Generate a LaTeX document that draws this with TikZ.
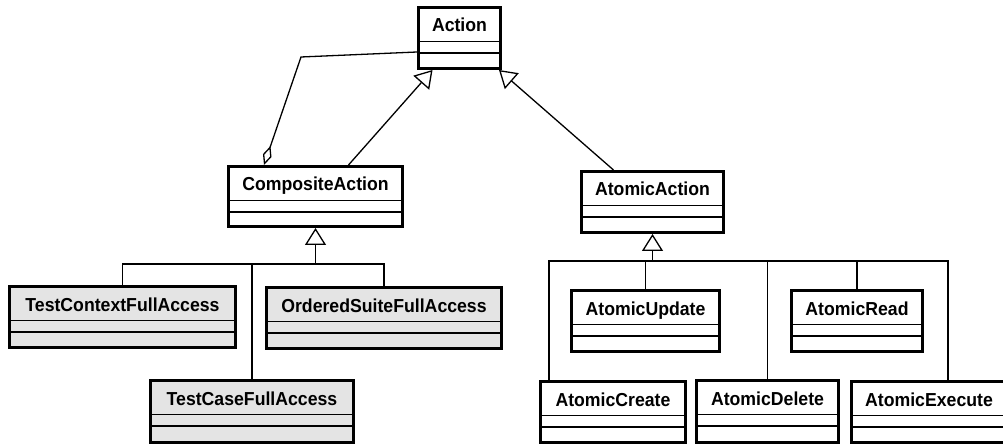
\documentclass[tikz,border=0pt]{standalone}
\usepackage{fontspec}
\setmainfont{Liberation Sans}[FakeStretch=0.94]
\usetikzlibrary{arrows.meta}
\definecolor{boxgray}{RGB}{228,228,228}
\tikzset{
  classbox/.style={draw=black, line width=3pt, rectangle, inner sep=0pt, anchor=north west},
  plainfill/.style={fill=white},
  grayfill/.style={fill=boxgray},
  sepline/.style={line width=1.6pt},
  classname/.style={anchor=base, inner sep=0pt, font=\fontsize{18.8}{21}\selectfont\bfseries},
  link/.style={line width=1.3pt, line join=miter},
  gen/.style={link, -{Triangle[open, length=17pt, width=21pt]}},
  agg/.style={link, {Diamond[open, length=20pt, width=9pt]}-},
}
% UML class: name, left, top, right, bottom (outer edges), fill style, class name
\newcommand\umlclass[7]{%
  \node[classbox,#6,minimum width={(#4-#2-3)*1pt},minimum height={(#5-#3-3)*1pt}] (#1) at (#2,#3) {};
  \draw[sepline] ([yshift=-35.5pt]#1.north west) -- ([yshift=-35.5pt]#1.north east);
  \draw[sepline] ([yshift=-47pt]#1.north west) -- ([yshift=-47pt]#1.north east);
  \node[classname] (#1-name) at ([yshift=-26pt]#1.north) {#7};
}
\begin{document}
\begin{tikzpicture}[x=1pt, y=-1pt]
  \clip (0,0) rectangle (1003,446);
  \fill[white] (0,0) rectangle (1003,446);

  % classes
  \umlclass{act}{417}{6}{502}{70}{plainfill}{Action}
  \umlclass{comp}{227}{165}{404}{228}{plainfill}{CompositeAction}
  \umlclass{aa}{580}{170}{725}{234}{plainfill}{AtomicAction}
  \umlclass{ctx}{8}{285}{237}{349}{grayfill}{TestContextFullAccess}
  \umlclass{ord}{265}{286}{503}{350}{grayfill}{OrderedSuiteFullAccess}
  \umlclass{tcase}{149}{379}{355}{444}{grayfill}{TestCaseFullAccess}
  \umlclass{upd}{570}{289}{721}{353}{plainfill}{AtomicUpdate}
  \umlclass{read}{790}{289}{924}{353}{plainfill}{AtomicRead}
  \umlclass{create}{539}{380}{687}{444}{plainfill}{AtomicCreate}
  \umlclass{del}{695}{379}{840}{444}{plainfill}{AtomicDelete}
  \umlclass{exe}{850}{380}{1008}{444}{plainfill}{AtomicExecute}

  % aggregation: CompositeAction contains Actions
  \coordinate (aggbend) at (301,57);
  \draw[agg] ([xshift=37pt]comp.north west) -- (aggbend) -- ([yshift=18pt]act.south west);

  % top-level generalizations
  \draw[gen] ([xshift=33pt]comp.north) -- ([xshift=-27pt]act.south);
  \draw[gen] ([xshift=-39pt]aa.north) -- ([xshift=-3pt]act.south east);

  % CompositeAction subclasses
  \coordinate (cbus) at (comp.south |- 0,264);
  \draw[gen] (cbus) -- (comp.south);
  \draw[link] (ctx.north) |- (cbus);
  \draw[link] (tcase.north) |- (cbus);
  \draw[link] (ord.north) |- (cbus);

  % AtomicAction subclasses
  \coordinate (abus) at (aa.south |- 0,261);
  \draw[gen] (abus) -- (aa.south);
  \draw[link] ([xshift=10pt]create.north west) |- (abus);
  \draw[link] (upd.north) |- (abus);
  \draw[link] (del.north) |- (abus);
  \draw[link] (read.north) |- (abus);
  \draw[link] ([xshift=98pt]exe.north west) |- (abus);
\end{tikzpicture}
\end{document}
